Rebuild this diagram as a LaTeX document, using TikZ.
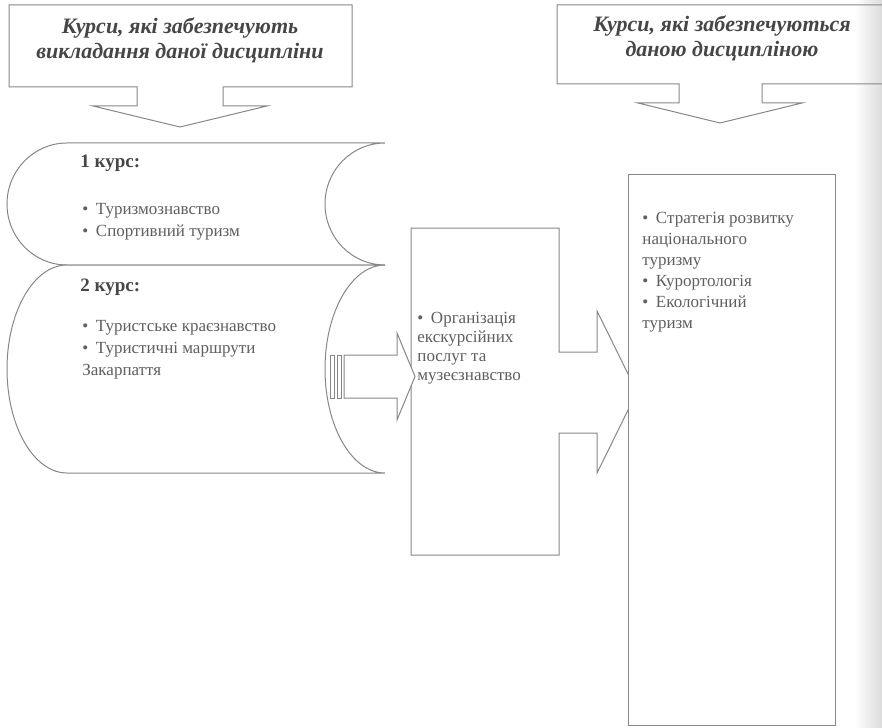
\documentclass[tikz,border=0pt]{standalone}
\usepackage{fontspec}
\setmainfont{Liberation Serif}
\definecolor{linec}{RGB}{135,135,135}
\definecolor{textc}{RGB}{95,95,95}
\definecolor{titlec}{RGB}{70,70,70}
\begin{document}
\begin{tikzpicture}[x=0.5pt,y=-0.5pt,
  shp/.style={draw=linec, line width=0.5pt, fill=white},
  shpo/.style={draw=linec, line width=0.5pt},
  txt/.style={text=textc, font=\fontsize{8.5}{11}\selectfont, inner sep=0pt, align=left, anchor=west},
  ttl/.style={text=titlec, font=\fontsize{11}{12.5}\selectfont\bfseries\itshape, inner sep=0pt, align=center},
  hd/.style={text=titlec, font=\fontsize{9.5}{11}\selectfont\bfseries, inner sep=0pt, anchor=west}]
\useasboundingbox (0,0) rectangle (882,727);
\shade[left color=white, right color=black!14] (855,0) rectangle (882,727);

% top callouts
\draw[shp] (9,5) -- (352,5) -- (352,87) -- (223,87) -- (223,106) -- (267,106) -- (180,127)
  -- (93,106) -- (137,106) -- (137,87) -- (9,87) -- cycle;
\draw[shpo] (557,5) -- (890,5) -- (890,84) -- (762,84) -- (762,103) -- (802,103) -- (720,123)
  -- (638,103) -- (679,103) -- (679,84) -- (557,84) -- cycle;

% stored-data shapes
\draw[shp] (67,143) -- (385,143) arc[start angle=-90,end angle=-270,x radius=60,y radius=61]
  -- (67,265) arc[start angle=90,end angle=270,x radius=60,y radius=61] -- cycle;
\draw[shp] (67,265) -- (385,265) arc[start angle=-90,end angle=-270,x radius=60,y radius=104]
  -- (67,473) arc[start angle=90,end angle=270,x radius=60,y radius=104] -- cycle;

% middle callout
\draw[shp] (411,228) -- (559,228) -- (559,352) -- (597,352) -- (597,311) -- (637,392)
  -- (597,473) -- (597,433) -- (559,433) -- (559,555) -- (411,555) -- cycle;

% striped arrow
\draw[shp] (330,355) rectangle (334,398);
\draw[shp] (337,355) rectangle (341,398);
\draw[shp] (344,355) -- (397,355) -- (397,333) -- (415,376.5) -- (397,420) -- (397,398) -- (344,398) -- cycle;

% right box
\draw[shp] (628,175) rectangle (835,725);

% texts
\node[ttl] (ta) at (180,40) {Курси, які забезпечують\\викладання даної дисципліни};
\node[ttl] (tb) at (722,38) {Курси, які забезпечуються\\даною дисципліною};

\node[hd] (k1) at (80,163) {1 курс:};
\node[txt] (l1) at (82,221.5) {•\hspace{0.45em}Туризмознавство\\•\hspace{0.45em}Спортивний туризм};
\node[hd] (k2) at (80,287) {2 курс:};
\node[txt] (l2) at (82,349.5) {•\hspace{0.45em}Туристське краєзнавство\\•\hspace{0.45em}Туристичні маршрути\\Закарпаття};

\node[txt, font=\fontsize{8.5}{9.5}\selectfont] (m) at (417,348) {•\hspace{0.45em}Організація\\екскурсійних\\послуг та\\музеєзнавство};

\node[txt, font=\fontsize{8.5}{10.5}\selectfont] (r) at (642,272) {•\hspace{0.45em}Стратегія розвитку\\національного\\туризму\\•\hspace{0.45em}Курортологія\\•\hspace{0.45em}Екологічний\\туризм};
\end{tikzpicture}
\end{document}
